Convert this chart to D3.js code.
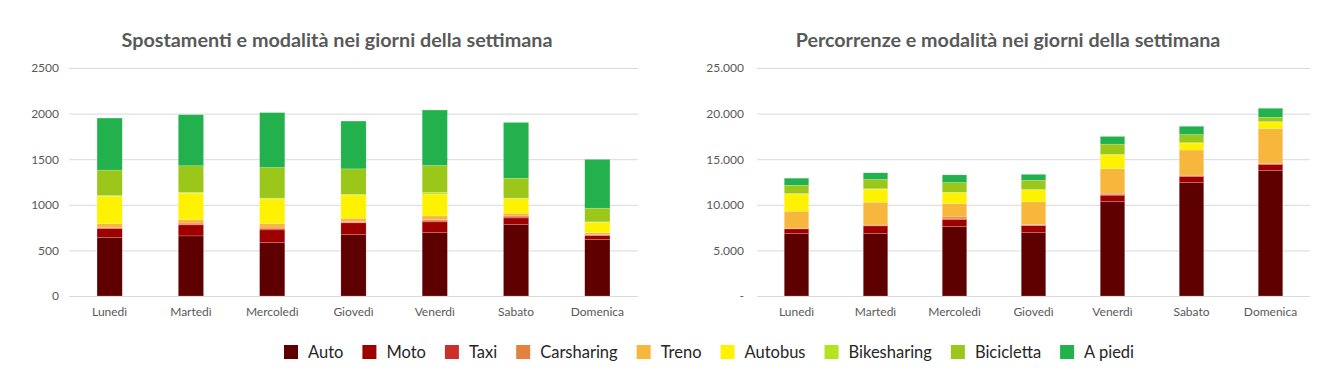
<!DOCTYPE html>
<html>
<head>
<meta charset="utf-8">
<script src="https://cdn.jsdelivr.net/npm/d3@7"></script>
<style>
  body { margin: 0; background: #fff; }
  svg { font-family: Lato, "Open Sans", sans-serif; }
</style>
</head>
<body>
<svg id="chart" width="1333" height="389"></svg>
<script>
// days and modes
var days = ["Lunedì", "Martedì", "Mercoledì", "Giovedì", "Venerdì", "Sabato", "Domenica"];
var modes = ["Auto", "Moto", "Taxi", "Carsharing", "Treno", "Autobus", "Bikesharing", "Bicicletta", "A piedi"];
var modeColors = ["#5f0000", "#9e0000", "#c9302a", "#e5813f", "#f6b73c", "#fff200", "#b7e21f", "#9bc71a", "#22b14c"];

// Spostamenti (one row per mode, one value per day)
var spostAuto        = [640, 659, 586, 673, 695, 783, 619];
var spostMoto        = [100, 121, 139, 129, 118, 73, 43];
var spostTaxi        = [5, 8, 12, 6, 10, 10, 6];
var spostCarsharing  = [8, 12, 18, 10, 15, 12, 8];
var spostTreno       = [40, 38, 40, 35, 40, 30, 19];
var spostAutobus     = [300, 290, 270, 255, 240, 160, 113];
var spostBikesharing = [8, 10, 8, 6, 18, 6, 5];
var spostBicicletta  = [280, 290, 336, 280, 295, 218, 150];
var spostPiedi       = [570, 560, 602, 524, 608, 611, 535];

// Percorrenze
var percAuto        = [6844, 6844, 7613, 6954, 10358, 12450, 13774];
var percMoto        = [513, 842, 768, 769, 695, 650, 659];
var percTaxi        = [30, 40, 80, 40, 80, 60, 50];
var percCarsharing  = [50, 60, 210, 50, 140, 90, 70];
var percTreno       = [1860, 2500, 1464, 2510, 2672, 2760, 3790];
var percAutobus     = [1900, 1430, 1200, 1320, 1540, 770, 740];
var percBikesharing = [40, 40, 45, 35, 40, 30, 40];
var percBicicletta  = [900, 1020, 1060, 1000, 1130, 890, 470];
var percPiedi       = [780, 732, 842, 660, 841, 910, 990];

var spostTicks = [0, 500, 1000, 1500, 2000, 2500];
var percTicks = [0, 5000, 10000, 15000, 20000, 25000];

var spostSeries = [spostAuto, spostMoto, spostTaxi, spostCarsharing, spostTreno, spostAutobus, spostBikesharing, spostBicicletta, spostPiedi];
var percSeries = [percAuto, percMoto, percTaxi, percCarsharing, percTreno, percAutobus, percBikesharing, percBicicletta, percPiedi];

var svg = d3.select("#chart");
var textColor = "#595959";

function buildRows(series) {
    return days.map(function (d, i) {
        var row = { day: d };
        modes.forEach(function (m, j) { row[m] = series[j][i]; });
        return row;
    });
}

function drawChart(opts) {
    var g = svg.append("g");
    var x = d3.scaleBand().domain(days).range([opts.x0, opts.x1]).paddingInner(0.69).paddingOuter(0.345);
    var y = d3.scaleLinear().domain([0, opts.max]).range([opts.y0, opts.y1]);

    // title
    g.append("text")
        .attr("x", opts.titleX)
        .attr("y", 47)
        .attr("text-anchor", "middle")
        .attr("font-size", opts.titleSize)
        .attr("font-weight", "bold")
        .attr("fill", textColor)
        .text(opts.title);

    // grid
    var yAxis = d3.axisLeft(y).tickValues(opts.ticks).tickSize(-(opts.x1 - opts.x0)).tickFormat(opts.fmt);
    var ga = g.append("g").attr("transform", "translate(" + opts.x0 + ",0)").call(yAxis);
    ga.select(".domain").remove();
    ga.selectAll("line").attr("stroke", "#d9d9d9").attr("stroke-width", 1);
    ga.selectAll("text").attr("fill", textColor).attr("font-size", 12).attr("x", opts.labelX - opts.x0).style("font-family", "Lato, sans-serif");

    var stack = d3.stack().keys(modes);
    var layers = stack(buildRows(opts.series));

    g.selectAll("g.layer")
        .data(layers)
        .enter().append("g")
        .attr("fill", function (d, i) { return modeColors[i]; })
        .selectAll("rect")
        .data(function (d) { return d; })
        .enter().append("rect")
        .attr("x", function (d) { return x(d.data.day); })
        .attr("width", x.bandwidth())
        .attr("y", function (d) { return y(d[1]); })
        .attr("height", function (d) { return y(d[0]) - y(d[1]); })
        .attr("stroke", "#ffffff")
        .attr("stroke-opacity", 0.35)
        .attr("stroke-width", 0.5);

    // x labels
    var xAxis = d3.axisBottom(x).tickSize(0).tickPadding(11);
    var gx = g.append("g").attr("transform", "translate(0," + opts.y0 + ")").call(xAxis);
    gx.select(".domain").remove();
    gx.selectAll("text").attr("fill", textColor).attr("font-size", 12).style("font-family", "Lato, sans-serif");
}

drawChart({
    title: "Spostamenti e modalità nei giorni della settimana",
    x0: 69, x1: 638, y0: 296, y1: 68, max: 2500,
    ticks: spostTicks, fmt: d3.format("d"), labelX: 59, titleX: 337, titleSize: 19.8,
    series: spostSeries
});

var itFormat = d3.formatLocale({ decimal: ",", thousands: ".", grouping: [3], currency: ["€", ""] }).format(",d");
drawChart({
    title: "Percorrenze e modalità nei giorni della settimana",
    x0: 757, x1: 1310, y0: 296, y1: 68, max: 25000,
    ticks: percTicks, fmt: function (d) { return d === 0 ? "-" : itFormat(d); }, labelX: 744, titleX: 1008, titleSize: 19.7,
    series: percSeries
});

// legend
var legend = svg.append("g").attr("transform", "translate(0,352)");
var lx = 284;
modes.forEach(function (m, i) {
    var item = legend.append("g").attr("transform", "translate(" + lx + ",0)");
    item.append("rect").attr("x", 0).attr("y", -7).attr("width", 14).attr("height", 14).attr("fill", modeColors[i]);
    var t = item.append("text").attr("x", 24).attr("y", 6).attr("font-size", 16.5).attr("fill", "#262626").text(m);
    lx += 24 + t.node().getComputedTextLength() + 19;
});
</script>
</body>
</html>
